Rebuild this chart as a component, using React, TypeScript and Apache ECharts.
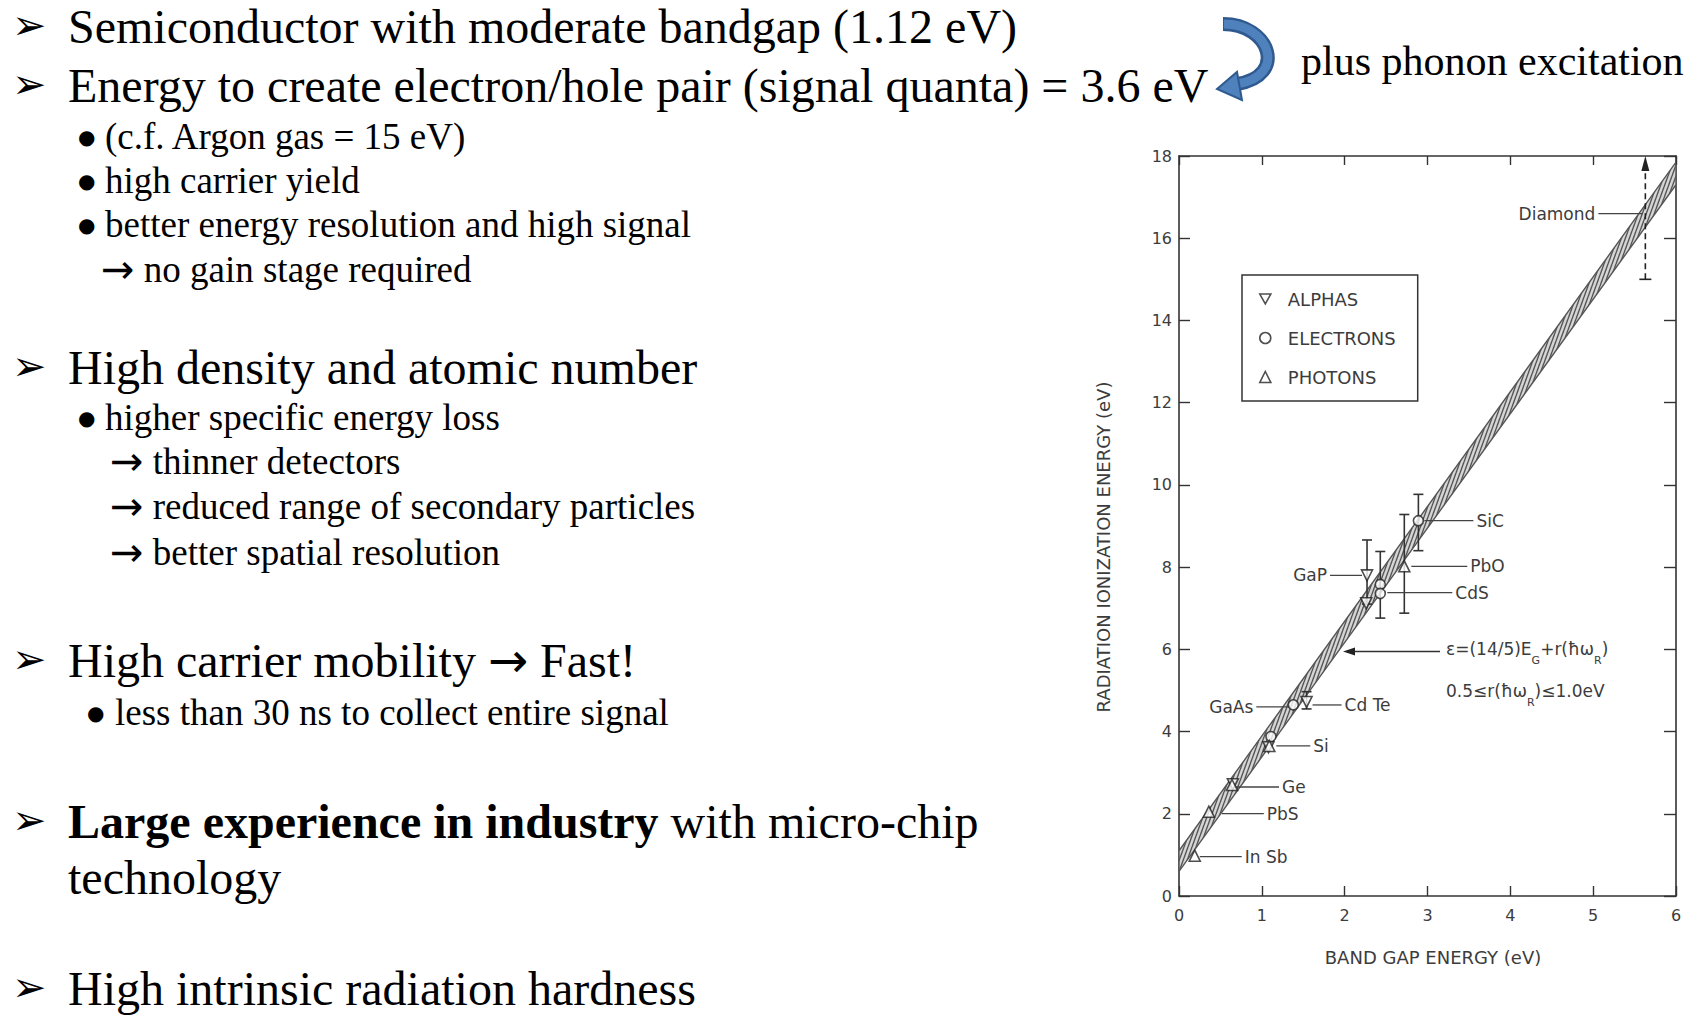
import React, { useEffect, useRef } from "react";
import * as echarts from "echarts";

// ---------- chart data ----------
const xTickLabels = ["0", "1", "2", "3", "4", "5", "6"];
const yTickLabels = ["0", "2", "4", "6", "8", "10", "12", "14", "16", "18"];

// theory band  E = (14/5)Eg + r(ħωR),  0.5 <= r(ħωR) <= 1.0 eV
const bandEg = [0, 6];
const bandLow = [0.6, 17.3];
const bandHigh = [1.1, 17.85];

const alphasData = [
  [0.65, 2.72],
  [1.08, 3.62],
  [1.54, 4.72],
  [2.27, 7.8],
  [2.26, 7.12],
];
const electronsData = [
  [1.11, 3.88],
  [1.38, 4.65],
  [2.43, 7.58],
  [2.43, 7.36],
  [2.89, 9.13],
];
const photonsData = [
  [0.19, 0.98],
  [0.36, 2.05],
  [0.64, 2.7],
  [1.09, 3.65],
  [2.72, 8.02],
];

// [Eg, low, high]
const errorBars = [
  [1.54, 4.55, 4.97],
  [2.27, 7.1, 8.66],
  [2.43, 6.76, 8.38],
  [2.72, 6.88, 9.28],
  [2.89, 8.4, 9.77],
];
const diamondRange = [[5.63, 15, 18]];

const materialNames = ["In Sb", "PbS", "Ge", "Si", "GaAs", "Cd Te", "GaP", "CdS", "PbO", "SiC", "Diamond"];
const materialEg = [0.19, 0.36, 0.64, 1.09, 1.38, 1.54, 2.27, 2.43, 2.72, 2.89, 5.63];
const materialE = [0.98, 2.05, 2.7, 3.65, 4.65, 4.72, 7.8, 7.5, 8.02, 9.13, 16.6];

const formulaAnchor = [[1.98, 5.95]];

// ---------- layout of annotations (pixels, relative to the point) ----------
const calloutLayout = [
  { from: 5, to: 47, dy: 1 },
  { from: 13, to: 55, dy: 2 },
  { from: 4, to: 47, dy: 2 },
  { from: 7, to: 41, dy: 0 },
  { from: -4, to: -37, dy: 2 },
  { from: 6, to: 35, dy: 3 },
  { from: -5, to: -37, dy: 0 },
  { from: 7, to: 72, dy: 5 },
  { from: 7, to: 63, dy: 0 },
  { from: 6, to: 55, dy: 0 },
  { from: -3, to: -47, dy: 0 },
];

const CHART_FONT = "DejaVu Sans";
const SERIF = "Liberation Serif";
const INK = "#3c3c3c";

function makeHatch() {
  const c = document.createElement("canvas");
  c.width = 4;
  c.height = 11;
  const ctx = c.getContext("2d");
  if (!ctx) return "#aaaaaa";
  ctx.fillStyle = "#d6d6d6";
  ctx.fillRect(0, 0, 4, 11);
  ctx.strokeStyle = "#555555";
  ctx.lineWidth = 1.4;
  for (const off of [-4, 0, 4]) {
    ctx.beginPath();
    ctx.moveTo(off, 11);
    ctx.lineTo(off + 4, 0);
    ctx.stroke();
  }
  return { image: c, repeat: "repeat" };
}

type Line = { x: number; y: number; text: string; size: number; font?: string; rich?: any };

const ARROW_RICH = { a: { fontFamily: CHART_FONT, fontSize: 40, fill: "#000" } };

const slideLines: Line[] = [
  { x: 12, y: 25, text: "➢", size: 41, font: CHART_FONT },
  { x: 68, y: 26, text: "Semiconductor with moderate bandgap (1.12 eV)", size: 48 },
  { x: 12, y: 84, text: "➢", size: 41, font: CHART_FONT },
  { x: 68, y: 85, text: "Energy to create electron/hole pair (signal quanta) = 3.6 eV", size: 48 },
  { x: 78, y: 137, text: "●", size: 20, font: CHART_FONT },
  { x: 105, y: 136, text: "(c.f. Argon gas = 15 eV)", size: 37 },
  { x: 78, y: 181, text: "●", size: 20, font: CHART_FONT },
  { x: 105, y: 180, text: "high carrier yield", size: 37 },
  { x: 78, y: 225, text: "●", size: 20, font: CHART_FONT },
  { x: 105, y: 224, text: "better energy resolution and high signal", size: 37 },
  { x: 101, y: 269, text: "{a|→} no gain stage required", size: 37, rich: ARROW_RICH },

  { x: 12, y: 366, text: "➢", size: 41, font: CHART_FONT },
  { x: 68, y: 367, text: "High density and atomic number", size: 48 },
  { x: 78, y: 418, text: "●", size: 20, font: CHART_FONT },
  { x: 105, y: 417, text: "higher specific energy loss", size: 37 },
  { x: 110, y: 461, text: "{a|→} thinner detectors", size: 37, rich: ARROW_RICH },
  { x: 110, y: 506, text: "{a|→} reduced range of secondary particles", size: 37, rich: ARROW_RICH },
  { x: 110, y: 552, text: "{a|→} better spatial resolution", size: 37, rich: ARROW_RICH },

  { x: 12, y: 659, text: "➢", size: 41, font: CHART_FONT },
  {
    x: 68,
    y: 660,
    text: "High carrier mobility {b|→} Fast!",
    size: 48,
    rich: { b: { fontFamily: CHART_FONT, fontSize: 48, fill: "#000" } },
  },
  { x: 87, y: 713, text: "●", size: 20, font: CHART_FONT },
  { x: 115, y: 712, text: "less than 30 ns to collect entire signal", size: 37 },

  { x: 12, y: 820, text: "➢", size: 41, font: CHART_FONT },
  {
    x: 68,
    y: 821,
    text: "{b|Large experience in industry} with micro-chip",
    size: 48,
    rich: { b: { fontWeight: "bold", fontSize: 48, fontFamily: SERIF, fill: "#000" } },
  },
  { x: 68, y: 877, text: "technology", size: 48 },

  { x: 12, y: 987, text: "➢", size: 41, font: CHART_FONT },
  { x: 68, y: 988, text: "High intrinsic radiation hardness", size: 48 },

  { x: 1301, y: 61, text: "plus phonon excitation", size: 42 },
];

export default function App() {
  const ref = useRef<HTMLDivElement>(null);

  useEffect(() => {
    if (!ref.current) return;
    const chart = echarts.init(ref.current, undefined, { renderer: "svg" });
    const hatch = makeHatch();

    const textEls = slideLines.map((l) => ({
      type: "text",
      z: 10,
      style: {
        x: l.x,
        y: l.y,
        text: l.text,
        fontSize: l.size,
        fontFamily: l.font || SERIF,
        fill: "#000",
        align: "left",
        verticalAlign: "middle",
        textAlign: "left",
        textVerticalAlign: "middle",
        rich: l.rich,
      },
    }));

    const axisLineStyle = { color: "#333", width: 1.6 };
    const tickStyle = { color: "#333", width: 1.4 };
    const markerStyle = { color: "#ffffff", borderColor: "#222", borderWidth: 1.6 };

    const option: any = {
      animation: false,
      backgroundColor: "#ffffff",
      grid: { left: 1179, top: 156, width: 497, height: 740, containLabel: false },
      legend: {
        orient: "vertical",
        left: 1242,
        top: 275,
        data: [
          { name: "ALPHAS", icon: "path://M0,0 L10,0 L5,9 Z" },
          { name: "ELECTRONS", icon: "circle" },
          { name: "PHOTONS", icon: "triangle" },
        ],
        borderColor: "#333",
        borderWidth: 1.5,
        padding: [15, 22, 15, 17],
        itemGap: 21,
        itemWidth: 11,
        itemHeight: 11,
        selectedMode: false,
        itemStyle: { color: "#ffffff", borderColor: "#222", borderWidth: 1.6 },
        textStyle: { fontSize: 18, color: INK, fontFamily: CHART_FONT, padding: [0, 0, 0, 12] },
      },
      xAxis: [
        {
          type: "value",
          min: 0,
          max: 6,
          interval: 1,
          position: "bottom",
          axisLine: { show: true, lineStyle: axisLineStyle },
          axisTick: { show: true, inside: true, length: 10, lineStyle: tickStyle },
          axisLabel: {
            color: INK,
            fontSize: 16,
            margin: 11,
            fontFamily: CHART_FONT,
            formatter: (v: number) => xTickLabels[Math.round(v)],
          },
          splitLine: { show: false },
        },
        {
          type: "value",
          min: 0,
          max: 6,
          interval: 1,
          position: "top",
          axisLine: { show: true, onZero: false, lineStyle: axisLineStyle },
          axisTick: { show: true, inside: true, length: 9, lineStyle: tickStyle },
          axisLabel: { show: false },
          splitLine: { show: false },
        },
      ],
      yAxis: [
        {
          type: "value",
          min: 0,
          max: 18,
          interval: 2,
          position: "left",
          axisLine: { show: true, lineStyle: axisLineStyle },
          axisTick: { show: true, inside: true, length: 11, lineStyle: tickStyle },
          axisLabel: {
            color: INK,
            fontSize: 16,
            margin: 7,
            fontFamily: CHART_FONT,
            formatter: (v: number) => yTickLabels[Math.round(v / 2)],
          },
          splitLine: { show: false },
        },
        {
          type: "value",
          min: 0,
          max: 18,
          interval: 2,
          position: "right",
          axisLine: { show: true, onZero: false, lineStyle: axisLineStyle },
          axisTick: { show: true, inside: true, length: 12, lineStyle: tickStyle },
          axisLabel: { show: false },
          splitLine: { show: false },
        },
      ],
      series: [
        {
          type: "custom",
          name: "band",
          z: 1,
          clip: true,
          data: [[bandEg[0], bandLow[0]]],
          encode: { x: 0, y: 1 },
          renderItem: (_p: any, api: any) => {
            const pts = [
              api.coord([bandEg[0], bandLow[0]]),
              api.coord([bandEg[1], bandLow[1]]),
              api.coord([bandEg[1], bandHigh[1]]),
              api.coord([bandEg[0], bandHigh[0]]),
            ];
            return {
              type: "polygon",
              shape: { points: pts },
              style: { fill: hatch, stroke: "#555", lineWidth: 1.4 },
            };
          },
        },
        {
          type: "custom",
          name: "errors",
          z: 2,
          data: errorBars,
          encode: { x: 0, y: [1, 2] },
          renderItem: (_p: any, api: any) => {
            const x = api.value(0);
            const a = api.coord([x, api.value(1)]);
            const b = api.coord([x, api.value(2)]);
            const cw = 5;
            const st = { stroke: "#333", lineWidth: 1.6 };
            return {
              type: "group",
              children: [
                { type: "line", shape: { x1: a[0], y1: a[1], x2: b[0], y2: b[1] }, style: st },
                { type: "line", shape: { x1: a[0] - cw, y1: a[1], x2: a[0] + cw, y2: a[1] }, style: st },
                { type: "line", shape: { x1: b[0] - cw, y1: b[1], x2: b[0] + cw, y2: b[1] }, style: st },
              ],
            };
          },
        },
        {
          type: "custom",
          name: "diamond",
          z: 2,
          clip: false,
          data: diamondRange,
          encode: { x: 0, y: [1, 2] },
          renderItem: (_p: any, api: any) => {
            const x = api.value(0);
            const a = api.coord([x, api.value(1)]);
            const b = api.coord([x, api.value(2)]);
            const st = { stroke: "#222", lineWidth: 1.6 };
            return {
              type: "group",
              children: [
                {
                  type: "line",
                  shape: { x1: a[0], y1: a[1], x2: b[0], y2: b[1] + 12 },
                  style: { stroke: "#222", lineWidth: 1.6, lineDash: [6, 4] },
                },
                { type: "line", shape: { x1: a[0] - 6, y1: a[1], x2: a[0] + 6, y2: a[1] }, style: st },
                {
                  type: "polygon",
                  shape: { points: [[b[0], b[1]], [b[0] - 4, b[1] + 15], [b[0] + 4, b[1] + 15]] },
                  style: { fill: "#222" },
                },
              ],
            };
          },
        },
        {
          type: "custom",
          name: "callouts",
          z: 3,
          clip: false,
          data: materialEg.map((x, i) => [x, materialE[i], i]),
          encode: { x: 0, y: 1 },
          renderItem: (_p: any, api: any) => {
            const i = api.value(2);
            const L = calloutLayout[i];
            const p = api.coord([api.value(0), api.value(1)]);
            const y = p[1] + L.dy;
            const dir = L.to > 0 ? 1 : -1;
            return {
              type: "group",
              children: [
                {
                  type: "line",
                  shape: { x1: p[0] + L.from, y1: y, x2: p[0] + L.to, y2: y },
                  style: { stroke: "#444", lineWidth: 1.3 },
                },
                {
                  type: "text",
                  style: {
                    x: p[0] + L.to + dir * 3,
                    y: y,
                    text: materialNames[i],
                    fontSize: 17,
                    fontFamily: CHART_FONT,
                    fill: INK,
                    align: dir > 0 ? "left" : "right",
                    textAlign: dir > 0 ? "left" : "right",
                    verticalAlign: "middle",
                    textVerticalAlign: "middle",
                  },
                },
              ],
            };
          },
        },
        {
          type: "custom",
          name: "formula",
          z: 3,
          clip: false,
          data: formulaAnchor,
          encode: { x: 0, y: 1 },
          renderItem: (_p: any, api: any) => {
            const p = api.coord([api.value(0), api.value(1)]);
            const rich = {
              n: { fontSize: 17, fontFamily: CHART_FONT, fill: INK, lineHeight: 26, verticalAlign: "top" },
              s: { fontSize: 11, fontFamily: CHART_FONT, fill: INK, lineHeight: 12, verticalAlign: "bottom" },
            };
            return {
              type: "group",
              children: [
                {
                  type: "line",
                  shape: { x1: p[0] + 8, y1: p[1], x2: p[0] + 97, y2: p[1] },
                  style: { stroke: "#333", lineWidth: 1.5 },
                },
                {
                  type: "polygon",
                  shape: { points: [[p[0], p[1]], [p[0] + 12, p[1] - 4], [p[0] + 12, p[1] + 4]] },
                  style: { fill: "#222" },
                },
                {
                  type: "text",
                  style: {
                    x: p[0] + 103,
                    y: p[1] + 2,
                    text: "{n|ε=(14/5)E}{s|G}{n|+r(ħω}{s|R}{n|)}",
                    rich,
                    align: "left",
                    textAlign: "left",
                    verticalAlign: "middle",
                    textVerticalAlign: "middle",
                  },
                },
                {
                  type: "text",
                  style: {
                    x: p[0] + 103,
                    y: p[1] + 44,
                    text: "{n|0.5≤r(ħω}{s|R}{n|)≤1.0eV}",
                    rich,
                    align: "left",
                    textAlign: "left",
                    verticalAlign: "middle",
                    textVerticalAlign: "middle",
                  },
                },
              ],
            };
          },
        },
        {
          name: "ALPHAS",
          type: "scatter",
          z: 5,
          data: alphasData,
          symbol: "triangle",
          symbolRotate: 180,
          symbolSize: 11,
          itemStyle: markerStyle,
        },
        {
          name: "ELECTRONS",
          type: "scatter",
          z: 5,
          data: electronsData,
          symbol: "circle",
          symbolSize: 10,
          itemStyle: markerStyle,
        },
        {
          name: "PHOTONS",
          type: "scatter",
          z: 5,
          data: photonsData,
          symbol: "triangle",
          symbolSize: 11,
          itemStyle: markerStyle,
        },
      ],
      graphic: [
        {
          type: "text",
          style: {
            x: 1433,
            y: 957,
            text: "BAND GAP ENERGY (eV)",
            fontSize: 18,
            fontFamily: CHART_FONT,
            fill: INK,
            align: "center",
            textAlign: "center",
            verticalAlign: "middle",
            textVerticalAlign: "middle",
          },
        },
        {
          type: "text",
          x: 1103,
          y: 547,
          rotation: Math.PI / 2,
          style: {
            x: 0,
            y: 0,
            text: "RADIATION IONIZATION ENERGY (eV)",
            fontSize: 18,
            fontFamily: CHART_FONT,
            fill: INK,
            align: "center",
            textAlign: "center",
            verticalAlign: "middle",
            textVerticalAlign: "middle",
          },
        },
        {
          type: "bezierCurve",
          shape: { x1: 1223, y1: 24, cpx1: 1270, cpy1: 24, cpx2: 1288, cpy2: 76, x2: 1237, y2: 84 },
          style: { stroke: "#2f5a8f", lineWidth: 14, fill: null },
        },
        {
          type: "bezierCurve",
          shape: { x1: 1224, y1: 24, cpx1: 1270, cpy1: 24, cpx2: 1288, cpy2: 76, x2: 1237, y2: 84 },
          style: { stroke: "#4f81bd", lineWidth: 9, fill: null },
        },
        {
          type: "polygon",
          shape: { points: [[1217, 89], [1237, 72], [1242, 100]] },
          style: { fill: "#4f81bd", stroke: "#2f5a8f", lineWidth: 2 },
        },
        ...textEls,
      ],
    };

    chart.setOption(option);
    return () => chart.dispose();
  }, []);

  return (
    <div
      ref={ref}
      style={{ position: "absolute", left: 0, top: 0, width: 1706, height: 1016, background: "#fff" }}
    />
  );
}
